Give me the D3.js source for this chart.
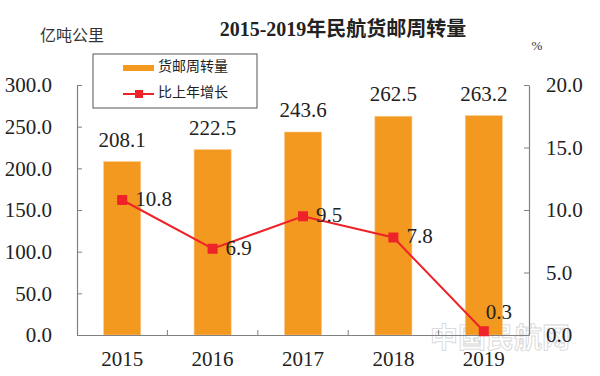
<!DOCTYPE html>
<html>
<head>
<meta charset="utf-8">
<script src="https://cdn.jsdelivr.net/npm/d3@7"></script>
<style>
  body { margin: 0; background: #fff; }
  text { font-family: "Liberation Serif", "Noto Sans CJK SC", serif; fill: #222; }
</style>
</head>
<body>
<div id="chart"></div>
<script>
const years = ["2015", "2016", "2017", "2018", "2019"];
const cargoTurnover = [208.1, 222.5, 243.6, 262.5, 263.2]; // 亿吨公里
const growthRate = [10.8, 6.9, 9.5, 7.8, 0.3];              // %
const leftTicks = [0, 50, 100, 150, 200, 250, 300];
const rightTicks = [0, 5, 10, 15, 20];

const width = 600, height = 376;
const margin = { top: 85, right: 71, bottom: 41, left: 77 };
const w = width - margin.left - margin.right;
const h = height - margin.top - margin.bottom;

const svg = d3.select("#chart")
    .append("svg")
    .attr("width", width)
    .attr("height", height);

// title + unit labels
svg.append("text")
    .attr("x", 343).attr("y", 31)
    .attr("text-anchor", "middle")
    .attr("dominant-baseline", "middle")
    .style("font-size", "20px")
    .style("font-weight", "bold")
    .text("2015-2019年民航货邮周转量");

svg.append("text")
    .attr("x", 40).attr("y", 37)
    .attr("dominant-baseline", "middle")
    .style("font-size", "16px")
    .style("fill", "#333")
    .text("亿吨公里");

svg.append("text")
    .attr("x", 537).attr("y", 47)
    .attr("text-anchor", "middle")
    .attr("dominant-baseline", "middle")
    .style("font-size", "13px")
    .style("fill", "#333")
    .text("%");

const g = svg.append("g")
    .attr("transform", "translate(" + margin.left + "," + margin.top + ")");

const x = d3.scaleBand().domain(years).range([0, w]).padding(0);
const y = d3.scaleLinear().domain([0, 300]).range([h, 0]);
const y2 = d3.scaleLinear().domain([0, 20]).range([h, 0]);

const barW = x.bandwidth() * 0.41;

// bars
g.selectAll(".bar")
    .data(cargoTurnover)
    .enter().append("rect")
    .attr("class", "bar")
    .attr("x", (d, i) => x(years[i]) + x.bandwidth() / 2 - barW / 2)
    .attr("y", d => y(d))
    .attr("width", barW)
    .attr("height", d => h - y(d))
    .style("fill", "#F4991F")
    .style("stroke", "#F9C98A")
    .style("stroke-width", 0.6);

g.selectAll(".barLabel")
    .data(cargoTurnover)
    .enter().append("text")
    .attr("x", (d, i) => x(years[i]) + x.bandwidth() / 2)
    .attr("y", d => y(d) - 15)
    .attr("text-anchor", "middle")
    .style("font-size", "21px")
    .text(d => d.toFixed(1));

// axes
const fmt = d3.format(".1f");

const leftAxis = g.append("g")
    .call(d3.axisLeft(y).tickValues(leftTicks).tickFormat(fmt)
        .tickSizeInner(-5).tickSizeOuter(0).tickPadding(25));

const rightAxis = g.append("g")
    .attr("transform", "translate(" + w + ",0)")
    .call(d3.axisRight(y2).tickValues(rightTicks).tickFormat(fmt)
        .tickSizeInner(-5).tickSizeOuter(0).tickPadding(17));

const bottomAxis = g.append("g")
    .attr("transform", "translate(0," + h + ")")
    .call(d3.axisBottom(x).tickSize(0).tickPadding(16));

[leftAxis, rightAxis, bottomAxis].forEach(a => {
    a.selectAll("path").style("stroke", "#808080").style("stroke-width", 1.2);
    a.selectAll("line").style("stroke", "#808080");
    a.selectAll("text")
        .style("font-family", "Liberation Serif, serif")
        .style("font-size", "21px")
        .style("fill", "#222");
});

// category separator ticks on the x axis
g.selectAll(".sep")
    .data(years.slice(1))
    .enter().append("line")
    .attr("x1", d => x(d)).attr("x2", d => x(d))
    .attr("y1", h).attr("y2", h - 5)
    .style("stroke", "#808080");

// growth line
const line = d3.line()
    .x((d, i) => x(years[i]) + x.bandwidth() / 2)
    .y(d => y2(d));

g.append("path")
    .datum(growthRate)
    .attr("d", line)
    .attr("fill", "none")
    .attr("stroke", "#EE2229")
    .attr("stroke-width", 2);

g.selectAll(".marker")
    .data(growthRate)
    .enter().append("rect")
    .attr("x", (d, i) => x(years[i]) + x.bandwidth() / 2 - 5)
    .attr("y", d => y2(d) - 5)
    .attr("width", 10)
    .attr("height", 10)
    .style("fill", "#EE2229");

g.selectAll(".lineLabel")
    .data(growthRate)
    .enter().append("text")
    .attr("x", (d, i) => x(years[i]) + x.bandwidth() / 2 + (i === growthRate.length - 1 ? 2 : 13))
    .attr("y", (d, i) => y2(d) + (i === growthRate.length - 1 ? -17 : 1))
    .attr("dominant-baseline", "middle")
    .style("font-size", "21px")
    .text(d => d.toFixed(1));

// legend
const legend = svg.append("g").attr("transform", "translate(93,54)");
legend.append("rect")
    .attr("width", 164).attr("height", 54)
    .attr("fill", "#fff")
    .attr("stroke", "#555");
legend.append("rect")
    .attr("x", 30).attr("y", 11)
    .attr("width", 31).attr("height", 6)
    .style("fill", "#F4991F");
legend.append("text")
    .attr("x", 65).attr("y", 14)
    .attr("dominant-baseline", "middle")
    .style("font-size", "14px")
    .text("货邮周转量");
legend.append("line")
    .attr("x1", 30).attr("x2", 61)
    .attr("y1", 40).attr("y2", 40)
    .attr("stroke", "#EE2229").attr("stroke-width", 2);
legend.append("rect")
    .attr("x", 42).attr("y", 36)
    .attr("width", 8).attr("height", 8)
    .style("fill", "#EE2229");
legend.append("text")
    .attr("x", 65).attr("y", 40)
    .attr("dominant-baseline", "middle")
    .style("font-size", "14px")
    .text("比上年增长");

// watermark (faint, sits behind the axis labels like in the source image)
svg.insert("text", ":first-child")
    .attr("x", 500).attr("y", 342)
    .attr("text-anchor", "middle")
    .attr("dominant-baseline", "middle")
    .style("font-size", "28px")
    .style("font-weight", "bold")
    .style("fill", "#fff")
    .style("stroke", "#ccc")
    .style("stroke-width", 0.8)
    .style("opacity", 0.8)
    .text("中国民航网");
</script>
</body>
</html>
